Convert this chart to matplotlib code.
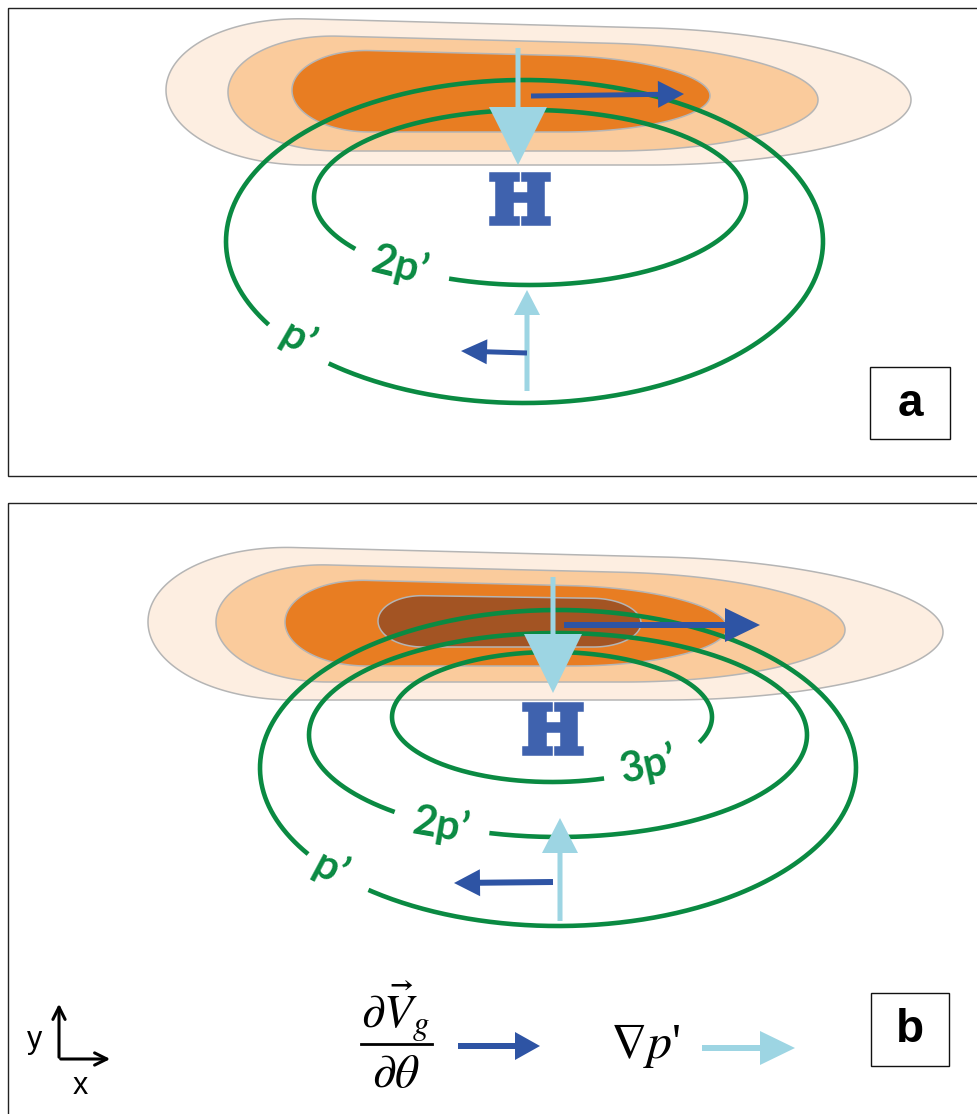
import numpy as np
import matplotlib
matplotlib.use("Agg")
import matplotlib.pyplot as plt
from matplotlib.patches import Polygon, Rectangle, FancyArrow
import matplotlib.patheffects as pe

plt.rcParams['mathtext.fontset'] = 'stix'

# ---------------- data (pixel-space schematic) ----------------
# orange blobs: (x_left, x_right, centre_y, half-height)
blob_colors = ['#FDEEE1', '#FACB9C', '#E87D22', '#A35423']
blobs_a = [(166, 911, 95, 70), (228, 818, 96, 55), (292, 710, 93, 39)]
blobs_b = [(148, 943, 627, 73), (216, 845, 626, 56), (285, 727, 625, 41), (378, 641, 622, 25)]

# green pressure contours: (cx, cy, hw, hh, gap_start_deg, gap_end_deg)
contours_a = [(524.5, 241.5, 298.5, 161.5, 131, 149), (530, 197.5, 216, 87.5, 112, 144)]
contours_b = [(558, 768, 298, 158, 129.5, 147), (558, 735, 249, 102, 106, 131), (552, 717, 160, 65, 23, 71)]

# contour labels: (text, x, y, rotation)
labels_a = [("2p\u2019", 400, 266, -14), ("p\u2019", 298, 339, -30)]
labels_b = [("3p\u2019", 648, 765, 12), ("2p\u2019", 441, 825, -10), ("p\u2019", 330, 869, -28)]

# arrows: (x0, y0, x1, y1, shaft_w, head_w, head_l)
grad_arrows_a = [(518, 48, 518, 165, 5, 58, 58), (527, 391, 527, 290, 5, 26, 25)]
dvdt_arrows_a = [(531, 96, 684, 94, 5, 27, 26), (527, 353, 461, 351, 5, 25, 26)]
grad_arrows_b = [(553, 577, 553, 693, 5, 58, 59), (560, 921, 560, 818, 5, 36, 35)]
dvdt_arrows_b = [(564, 625, 760, 625, 6, 34, 35), (553, 882, 454, 883, 6, 27, 26)]

H_pos = [(520, 205), (553, 735)]
panel_boxes = [(870, 367, 80, 72, 'a'), (871, 993, 78, 73, 'b')]

# colours
green = '#0A8A42'
light_blue = '#9DD5E3'
dark_blue = '#2E54A4'
H_blue = '#3F62AE'

# ---------------- figure ----------------
fig = plt.figure(figsize=(9.78, 11.14), dpi=100)
ax = fig.add_axes([0, 0, 1, 1])
ax.set_xlim(0, 978)
ax.set_ylim(1114, 0)
ax.axis('off')


def blob_xy(xl, xr, cy, b, rl, rr, taper=0.07):
    cx, a = (xl + xr) / 2, (xr - xl) / 2
    phi = np.linspace(0, np.pi / 2, 120)
    x_left = xl + rl * (1 - np.cos(phi))
    h_left = b * np.sin(phi)
    x_mid = np.linspace(xl + rl, xr - rr, 60)[1:-1]
    h_mid = np.full_like(x_mid, b)
    x_right = xr - rr + rr * np.sin(phi)
    h_right = b * np.cos(phi)
    x = np.concatenate([x_left, x_mid, x_right])
    h = np.concatenate([h_left, h_mid, h_right])
    u = (x - cx) / a
    yc = cy + b * taper * u
    hh = h * (1 - taper * u)
    top = np.column_stack([x, yc - hh])
    bot = np.column_stack([x[::-1], (yc + hh)[::-1]])
    return np.vstack([top, bot])


def draw_blobs(blist):
    for i, (xl, xr, cy, b) in enumerate(blist):
        if i < 3:
            xy = blob_xy(xl, xr, cy, b, rl=2.0 * b, rr=0.7 * (xr - xl) / 2)
        else:
            xy = blob_xy(xl, xr, cy, b, rl=1.8 * b, rr=1.9 * b, taper=0.04)
        ax.add_patch(Polygon(xy, closed=True,
                             facecolor=blob_colors[i], edgecolor='#B5B5B5',
                             lw=1.1, zorder=1 + i * 0.1))


def draw_contours(clist):
    for cx, cy, hw, hh, g0, g1 in clist:
        t = np.radians(np.linspace(g1, g0 + 360, 600))
        ax.plot(cx + hw * np.cos(t), cy + hh * np.sin(t), color=green,
                lw=3.3, solid_capstyle='butt', zorder=3)


def draw_labels(llist):
    for txt, x, y, rot in llist:
        ax.text(x, y, txt, color=green, fontsize=30, fontweight='bold',
                family='Lato', rotation=rot, rotation_mode='anchor',
                ha='center', va='center', zorder=4)


def draw_arrows(alist, color):
    for x0, y0, x1, y1, w, hw, hl in alist:
        ax.add_patch(FancyArrow(x0, y0, x1 - x0, y1 - y0, width=w,
                                head_width=hw, head_length=hl,
                                length_includes_head=True, color=color,
                                lw=0, zorder=5))


# panel frames
ax.add_patch(Rectangle((8, 8), 975, 468, fill=False, edgecolor='#222222', lw=1.0, zorder=0))
ax.add_patch(Rectangle((8, 503), 975, 700, fill=False, edgecolor='#222222', lw=1.0, zorder=0))

draw_blobs(blobs_a)
draw_blobs(blobs_b)
draw_contours(contours_a)
draw_contours(contours_b)
draw_labels(labels_a)
draw_labels(labels_b)
draw_arrows(grad_arrows_a, light_blue)
draw_arrows(grad_arrows_b, light_blue)
draw_arrows(dvdt_arrows_a, dark_blue)
draw_arrows(dvdt_arrows_b, dark_blue)

for x, y in H_pos:
    ax.text(x, y, 'H', color=H_blue, fontsize=47, fontweight='bold',
            family='DejaVu Serif', ha='center', va='center', zorder=6,
            path_effects=[pe.withStroke(linewidth=4.0, foreground=H_blue,
                                        joinstyle='miter')])

for x, y, w, h, lab in panel_boxes:
    ax.add_patch(Rectangle((x, y), w, h, facecolor='white', edgecolor='#111111', lw=1.0, zorder=6))
    ax.text(x + w / 2, y + h / 2 + 1, lab, fontsize=33, fontweight='bold',
            family='Liberation Sans', ha='center', va='center', zorder=7)

# ---------------- legend ----------------
ax.text(396, 1012, r'$\partial\vec{V}_{g}$', fontsize=34, ha='center', va='center', zorder=6)
ax.plot([361, 432], [1044, 1044], color='black', lw=2, zorder=6)
ax.text(396, 1074, r'$\partial\theta$', fontsize=34, ha='center', va='center', zorder=6)
draw_arrows([(458, 1046, 540, 1046, 6, 28, 25)], dark_blue)
ax.text(645, 1046, r"$\nabla p$'", fontsize=36, family='Liberation Serif',
        ha='center', va='center', zorder=6)
draw_arrows([(702, 1048, 795, 1048, 6, 34, 35)], light_blue)

# axes indicator
ax.annotate('', xy=(59, 1001), xytext=(59, 1060),
            arrowprops=dict(arrowstyle='->', lw=2.2, color='black', mutation_scale=22))
ax.annotate('', xy=(113, 1059), xytext=(57.9, 1059),
            arrowprops=dict(arrowstyle='->', lw=2.2, color='black', mutation_scale=22))
ax.text(35, 1040, 'y', fontsize=22, family='Liberation Sans',
        ha='center', va='center')
ax.text(80, 1086, 'x', fontsize=22, family='Liberation Sans',
        ha='center', va='center')

fig.savefig('out.png', dpi=100)
